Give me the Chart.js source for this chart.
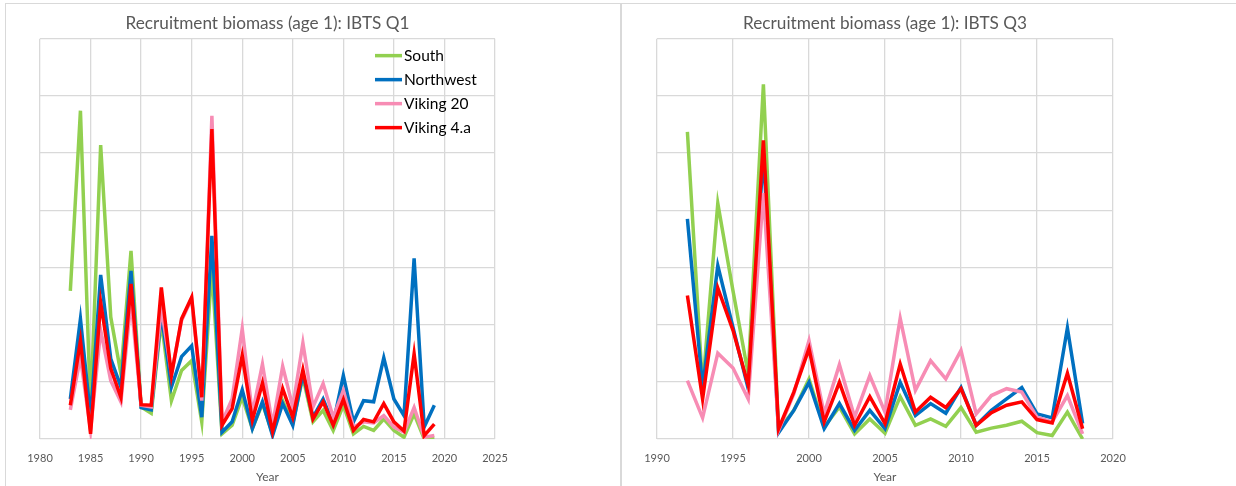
<!DOCTYPE html>
<html>
<head>
<meta charset="utf-8">
<script src="https://cdn.jsdelivr.net/npm/chart.js@4.4.1/dist/chart.umd.min.js"></script>
<style>
  body { margin: 0; background: #fff; width: 1236px; height: 486px; overflow: hidden; position: relative; }
  .panel { position: absolute; top: 3px; height: 490px; border: 1px solid #d9d9d9; box-sizing: border-box; }
  .box { position: absolute; top: 0; height: 486px; }
</style>
</head>
<body>
<div class="panel" style="left:5px;width:616px;"></div>
<div class="panel" style="left:621px;width:620px;"></div>
<div class="box" style="left:10px;width:566px;"><canvas id="q1"></canvas></div>
<div class="box" style="left:627px;width:600px;"><canvas id="q3"></canvas></div>
<script>
// Series names and colours
const seriesNames = ['South', 'Northwest', 'Viking 20', 'Viking 4.a'];
const seriesColors = ['#92D050', '#0070C0', '#F78CB4', '#FF0000'];

// IBTS Q1 (left panel)
const yearsQ1 = [1983, 1984, 1985, 1986, 1987, 1988, 1989, 1990, 1991, 1992, 1993, 1994, 1995, 1996, 1997, 1998, 1999,
  2000, 2001, 2002, 2003, 2004, 2005, 2006, 2007, 2008, 2009, 2010, 2011, 2012, 2013, 2014, 2015, 2016, 2017, 2018, 2019];
const southQ1 = [2.59, 5.74, 0.5, 5.14, 2.13, 1.14, 3.29, 0.56, 0.45, 2.07, 0.67, 1.2, 1.37, 0.3, 3.0, 0.09, 0.24,
  0.73, 0.18, 0.62, 0.09, 0.67, 0.27, 1.08, 0.3, 0.5, 0.15, 0.59, 0.09, 0.22, 0.15, 0.35, 0.15, 0.03, 0.44, 0, 0.02];
const northwestQ1 = [0.7, 2.1, 0.38, 2.87, 1.4, 0.91, 2.94, 0.55, 0.51, 2.19, 0.91, 1.44, 1.63, 0.38, 3.55, 0.12, 0.3,
  0.86, 0.18, 0.65, 0.06, 0.62, 0.24, 1.14, 0.38, 0.7, 0.27, 1.11, 0.3, 0.67, 0.65, 1.42, 0.7, 0.41, 3.16, 0.21, 0.59];
const viking20Q1 = [0.51, 1.43, 0.15, 1.9, 1.02, 0.65, 2.42, 0.59, 0.56, 2.3, 1.14, 2.07, 2.45, 0.67, 5.65, 0.3, 0.7,
  1.93, 0.44, 1.31, 0.24, 1.27, 0.56, 1.68, 0.56, 0.97, 0.38, 0.85, 0.21, 0.3, 0.28, 0.41, 0.21, 0.12, 0.55, 0.03, 0.06];
const viking4aQ1 = [0.59, 1.72, 0.09, 2.39, 1.23, 0.73, 2.71, 0.6, 0.59, 2.65, 1.11, 2.1, 2.48, 0.73, 5.42, 0.24, 0.53,
  1.46, 0.33, 0.98, 0.13, 0.88, 0.38, 1.21, 0.35, 0.65, 0.24, 0.69, 0.15, 0.34, 0.3, 0.62, 0.3, 0.14, 1.49, 0.06, 0.26];

// IBTS Q3 (right panel)
const yearsQ3 = [1992, 1993, 1994, 1995, 1996, 1997, 1998, 1999, 2000, 2001, 2002, 2003, 2004, 2005,
  2006, 2007, 2008, 2009, 2010, 2011, 2012, 2013, 2014, 2015, 2016, 2017, 2018];
const southQ3 = [5.37, 0.9, 4.12, 2.59, 1.14, 6.2, 0.15, 0.5, 1.05, 0.21, 0.56, 0.09, 0.35, 0.1,
  0.74, 0.24, 0.35, 0.22, 0.55, 0.12, 0.19, 0.24, 0.31, 0.11, 0.06, 0.47, 0];
const northwestQ3 = [3.85, 0.9, 3.03, 1.95, 0.88, 5.0, 0.11, 0.5, 0.99, 0.18, 0.62, 0.15, 0.5, 0.18,
  0.99, 0.41, 0.62, 0.45, 0.9, 0.24, 0.5, 0.7, 0.9, 0.44, 0.37, 1.94, 0.27];
const viking20Q3 = [1.02, 0.37, 1.5, 1.24, 0.7, 4.3, 0.15, 0.79, 1.72, 0.44, 1.3, 0.38, 1.11, 0.47,
  2.11, 0.85, 1.37, 1.05, 1.55, 0.44, 0.76, 0.88, 0.82, 0.38, 0.3, 0.76, 0.09];
const viking4aQ3 = [2.51, 0.7, 2.64, 1.9, 0.94, 5.22, 0.18, 0.82, 1.58, 0.3, 0.99, 0.24, 0.74, 0.27,
  1.31, 0.47, 0.73, 0.55, 0.88, 0.24, 0.46, 0.59, 0.65, 0.34, 0.28, 1.15, 0.18];

const textColor = '#595959';
const gridColor = '#d9d9d9';
const fontFamily = 'Lato, "Open Sans", sans-serif';

// Legend drawn inside the plot area, top right (as in the Excel original)
const insideLegend = {
  id: 'insideLegend',
  afterDraw(chart, args, opts) {
    if (!opts.show) return;
    const ctx = chart.ctx;
    const area = chart.chartArea;
    const x0 = area.left + 335;
    let y = area.top + 17;
    ctx.save();
    ctx.font = '15.5px ' + fontFamily;
    ctx.textBaseline = 'middle';
    chart.data.datasets.forEach(ds => {
      ctx.strokeStyle = ds.borderColor;
      ctx.lineWidth = 3.5;
      ctx.beginPath();
      ctx.moveTo(x0, y);
      ctx.lineTo(x0 + 27, y);
      ctx.stroke();
      ctx.fillStyle = '#000';
      ctx.fillText(ds.label, x0 + 29, y);
      y += 24;
    });
    ctx.restore();
  }
};

function makeChart(id, title, years, series, xMin, xMax, padLeft, padRight, showLegend) {
  const datasets = series.map((vals, i) => ({
    label: seriesNames[i],
    data: years.map((yr, k) => ({ x: yr, y: vals[k] })),
    borderColor: seriesColors[i],
    backgroundColor: seriesColors[i],
    borderWidth: 3.5,
    pointRadius: 0,
    tension: 0,
    order: series.length - i
  }));

  return new Chart(id, {
    type: 'line',
    data: { datasets: datasets },
    options: {
      responsive: true,
      maintainAspectRatio: false,
      animation: false,
      layout: { padding: { left: padLeft, right: padRight, top: 0, bottom: 1 } },
      plugins: {
        legend: { display: false },
        tooltip: { enabled: false },
        title: {
          display: true,
          text: title,
          color: textColor,
          font: { family: fontFamily, size: 17.2, weight: 'normal' },
          padding: { top: 13, bottom: 5 }
        },
        insideLegend: { show: showLegend }
      },
      scales: {
        x: {
          type: 'linear',
          min: xMin,
          max: xMax,
          ticks: {
            stepSize: 5,
            color: textColor,
            font: { family: fontFamily, size: 11, lineHeight: 1 },
            padding: 13.5,
            maxRotation: 0,
            callback: v => String(v)
          },
          grid: { color: gridColor, lineWidth: 1.3, drawTicks: false },
          border: { display: false },
          title: {
            display: true,
            text: 'Year',
            color: textColor,
            font: { family: fontFamily, size: 12, lineHeight: 1 },
            padding: { top: -6, bottom: 2 }
          }
        },
        y: {
          min: 0,
          max: 7,
          ticks: { stepSize: 1, display: false },
          grid: { color: gridColor, lineWidth: 1.3, drawTicks: false },
          border: { display: false }
        }
      }
    },
    plugins: [insideLegend]
  });
}

makeChart('q1', 'Recruitment biomass (age 1): IBTS Q1', yearsQ1,
  [southQ1, northwestQ1, viking20Q1, viking4aQ1], 1980, 2025, 30, 81, true);
makeChart('q3', 'Recruitment biomass (age 1): IBTS Q3', yearsQ3,
  [southQ3, northwestQ3, viking20Q3, viking4aQ3], 1990, 2020, 30, 114, false);
</script>
</body>
</html>
